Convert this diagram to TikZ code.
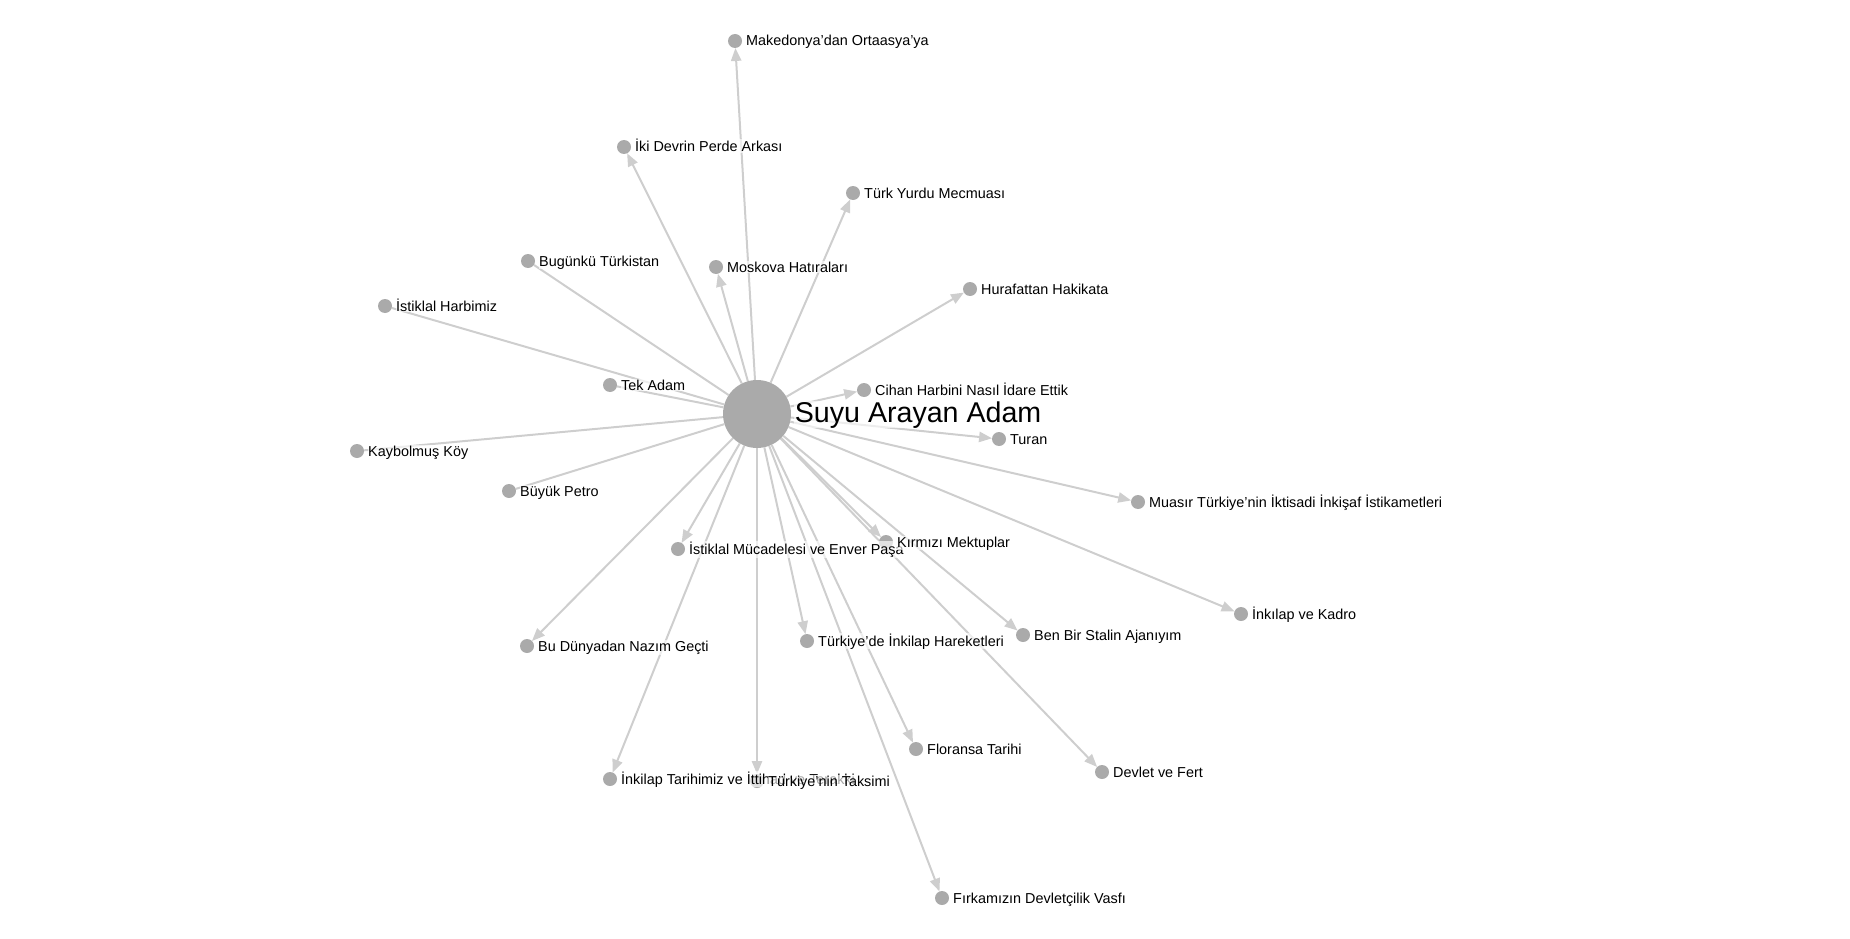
\documentclass[tikz,border=0pt]{standalone}
\usepackage{fontspec}
\setmainfont{Liberation Sans}
\usepackage{tikz}
\usetikzlibrary{arrows,backgrounds}
\definecolor{dotgray}{RGB}{170,170,170}
\definecolor{edgegray}{RGB}{206,206,206}

\begin{document}
\begin{tikzpicture}[line cap=round,line join=round,>=triangle 45,x=1pt,y=-1pt,
    dot/.style={circle,fill=dotgray,inner sep=0pt,minimum size=14pt},
    edge/.style={draw=edgegray,line width=2pt},
    lbl/.style={anchor=base west,inner sep=0.5pt,fill=white,fill opacity=0.65,text opacity=1,
      xshift=10.5pt,yshift=-5pt,font=\fontsize{14.4}{17}\selectfont}]
        \useasboundingbox (0,0) rectangle (1850,939);
        \node[dot,minimum size=68pt] (hub) at (757,414) {};
        \node[dot] (makedonya) at (735,41) {};
        \node[dot] (ikidevrin) at (624,147) {};
        \node[dot] (turkyurdu) at (853,193) {};
        \node[dot] (bugunku) at (528,261) {};
        \node[dot] (moskova) at (716,267) {};
        \node[dot] (hurafat) at (970,289) {};
        \node[dot] (harbimiz) at (385,306) {};
        \node[dot] (tekadam) at (610,385) {};
        \node[dot] (cihan) at (864,390) {};
        \node[dot] (turan) at (999,439) {};
        \node[dot] (kaybolmus) at (357,451) {};
        \node[dot] (petro) at (509,491) {};
        \node[dot] (muasir) at (1138,502) {};
        \node[dot] (enver) at (678,549) {};
        \node[dot] (kirmizi) at (886,542) {};
        \node[dot] (kadro) at (1241,614) {};
        \node[dot] (stalin) at (1023,635) {};
        \node[dot] (nazim) at (527,646) {};
        \node[dot] (hareket) at (807,641) {};
        \node[dot] (floransa) at (916,749) {};
        \node[dot] (devlet) at (1102,772) {};
        \node[dot] (ittihad) at (610,779) {};
        \node[dot] (taksim) at (757,781) {};
        \node[dot] (firka) at (942,898) {};
        \begin{scope}[on background layer]
        \draw [edge,->] (hub) -- (makedonya);
        \draw [edge,->] (hub) -- (ikidevrin);
        \draw [edge,->] (hub) -- (turkyurdu);
        \draw [edge] (bugunku) -- (hub);
        \draw [edge,->] (hub) -- (moskova);
        \draw [edge,->] (hub) -- (hurafat);
        \draw [edge] (harbimiz) -- (hub);
        \draw [edge] (tekadam) -- (hub);
        \draw [edge,->] (hub) -- (cihan);
        \draw [edge,->] (hub) -- (turan);
        \draw [edge] (kaybolmus) -- (hub);
        \draw [edge] (petro) -- (hub);
        \draw [edge,->] (hub) -- (muasir);
        \draw [edge,->] (hub) -- (enver);
        \draw [edge,->] (hub) -- (kirmizi);
        \draw [edge,->] (hub) -- (kadro);
        \draw [edge,->] (hub) -- (stalin);
        \draw [edge,->] (hub) -- (nazim);
        \draw [edge,->] (hub) -- (hareket);
        \draw [edge,->] (hub) -- (floransa);
        \draw [edge,->] (hub) -- (devlet);
        \draw [edge,->] (hub) -- (ittihad);
        \draw [edge,->] (hub) -- (taksim);
        \draw [edge,->] (hub) -- (firka);
        \end{scope}
        \node[lbl] (makedonya-t) at (makedonya) {Makedonya'dan Ortaasya'ya};
        \node[lbl] (ikidevrin-t) at (ikidevrin) {İki Devrin Perde Arkası};
        \node[lbl] (turkyurdu-t) at (turkyurdu) {Türk Yurdu Mecmuası};
        \node[lbl] (bugunku-t) at (bugunku) {Bugünkü Türkistan};
        \node[lbl] (moskova-t) at (moskova) {Moskova Hatıraları};
        \node[lbl] (hurafat-t) at (hurafat) {Hurafattan Hakikata};
        \node[lbl] (harbimiz-t) at (harbimiz) {İstiklal Harbimiz};
        \node[lbl] (tekadam-t) at (tekadam) {Tek Adam};
        \node[lbl] (cihan-t) at (cihan) {Cihan Harbini Nasıl İdare Ettik};
        \node[lbl] (turan-t) at (turan) {Turan};
        \node[lbl] (kaybolmus-t) at (kaybolmus) {Kaybolmuş Köy};
        \node[lbl] (petro-t) at (petro) {Büyük Petro};
        \node[lbl] (muasir-t) at (muasir) {Muasır Türkiye'nin İktisadi İnkişaf İstikametleri};
        \node[lbl] (enver-t) at (enver) {İstiklal Mücadelesi ve Enver Paşa};
        \node[lbl] (kirmizi-t) at (kirmizi) {Kırmızı Mektuplar};
        \node[lbl] (kadro-t) at (kadro) {İnkılap ve Kadro};
        \node[lbl] (stalin-t) at (stalin) {Ben Bir Stalin Ajanıyım};
        \node[lbl] (nazim-t) at (nazim) {Bu Dünyadan Nazım Geçti};
        \node[lbl] (hareket-t) at (hareket) {Türkiye'de İnkilap Hareketleri};
        \node[lbl] (floransa-t) at (floransa) {Floransa Tarihi};
        \node[lbl] (devlet-t) at (devlet) {Devlet ve Fert};
        \node[lbl] (ittihad-t) at (ittihad) {İnkilap Tarihimiz ve İttihad ve Terakki};
        \node[lbl] (taksim-t) at (taksim) {Türkiye'nin Taksimi};
        \node[lbl] (firka-t) at (firka) {Fırkamızın Devletçilik Vasfı};
        \node[anchor=base west,inner sep=0.5pt,fill=white,fill opacity=0.65,text opacity=1,
          font=\fontsize{28.6}{34}\selectfont,xshift=3pt,yshift=-8pt] (hub-t) at (hub.east) {Suyu Arayan Adam};
\end{tikzpicture}
\end{document}
